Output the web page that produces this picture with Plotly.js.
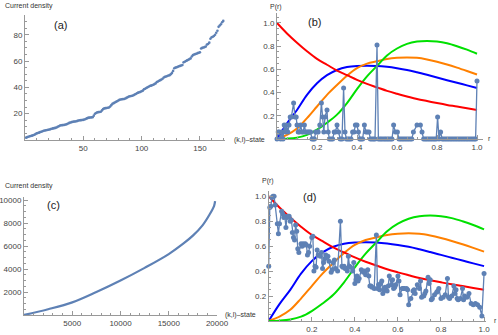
<!DOCTYPE html>
<html>
<head>
<meta charset="utf-8">
<script src="https://cdn.plot.ly/plotly-3.0.1.min.js"></script>
<style>
  html, body { margin: 0; padding: 0; background: #fff; }
  #chart { width: 498px; height: 335px; }
</style>
</head>
<body>
<div id="chart"></div>
<script>
// (a) current density of each (k,l)-state, sorted
var aDensity = [
  1.8, 2.2, 2.5, 2.8, 3.0, 3.3, 3.6, 4.0, 4.5, 5.0,
  5.3, 5.6, 6.0, 6.3, 6.7, 7.0, 7.2, 7.4, 7.6, 7.8,
  8.0, 8.3, 8.6, 8.8, 9.0, 9.2, 9.5, 10.0, 10.5, 11.0,
  11.2, 11.3, 11.4, 11.5, 11.8, 12.1, 12.5, 13.0, 13.3, 13.6,
  13.8, 14.0, 14.1, 14.2, 14.5, 14.8, 15.0, 15.1, 15.2, 15.3,
  15.6, 16.0, 16.4, 16.8, 17.0, 17.1, 17.2, 17.3, 18.5, 20.0,
  20.5, 21.0, 21.2, 21.3, 21.5, 22.5, 23.5, 24.0, 24.2, 24.3,
  24.5, 24.7, 25.5, 26.5, 27.5, 28.0, 28.5, 29.0, 29.5, 30.0,
  30.5, 30.8, 31.0, 31.1, 31.2, 31.5, 32.0, 32.5, 33.0, 33.2,
  33.4, 33.6, 34.0, 34.5, 35.0, 35.5, 36.0, 36.3, 36.6, 37.0,
  37.5, 38.5, 39.0, 39.5, 40.0, 40.5, 41.0, 41.3, 41.6, 42.0,
  42.5, 43.0, 44.0, 44.5, 45.0, 45.5, 46.0, 46.5, 47.5, 48.0,
  48.3, 48.6, 49.0, 49.3, 50.0, 51.0, 52.5, 54.5, 55.0, 55.3,
  55.6, 56.0, 56.3, 56.6, 57.0, 59.0, 59.5, 60.0, 60.5, 61.0,
  61.5, 62.0, 63.5, 64.5, 65.0, 65.3, 65.6, 66.0, 66.3, 66.6,
  69.5, 70.0, 70.3, 70.6, 71.0, 72.5, 73.0, 74.0, 77.0, 78.0,
  78.5, 79.0, 80.0, 81.5, 83.0, 86.0, 87.0, 88.0, 89.5, 90.5
];

// (b) P(r) sampled
var bR = [
  0, 0.006, 0.012, 0.018, 0.024, 0.03, 0.036, 0.042, 0.048, 0.054,
  0.06, 0.066, 0.072, 0.083, 0.09, 0.096, 0.1, 0.106, 0.112, 0.118,
  0.125, 0.131, 0.137, 0.143, 0.15, 0.156, 0.162, 0.168, 0.175, 0.181,
  0.187, 0.193, 0.2, 0.206, 0.214, 0.222, 0.228, 0.234, 0.24, 0.25,
  0.256, 0.262, 0.27, 0.278, 0.286, 0.292, 0.3, 0.308, 0.316, 0.325,
  0.333, 0.34, 0.347, 0.355, 0.362, 0.37, 0.378, 0.385, 0.392, 0.4,
  0.407, 0.414, 0.42, 0.428, 0.437, 0.445, 0.452, 0.46, 0.467, 0.475,
  0.483, 0.49, 0.5, 0.507, 0.515, 0.522, 0.53, 0.538, 0.545, 0.553,
  0.56, 0.568, 0.575, 0.583, 0.592, 0.602, 0.61, 0.618, 0.626, 0.634,
  0.642, 0.65, 0.658, 0.666, 0.674, 0.682, 0.7, 0.717, 0.725, 0.733,
  0.741, 0.749, 0.757, 0.765, 0.773, 0.781, 0.789, 0.796, 0.803, 0.81,
  0.818, 0.826, 0.834, 0.842, 0.85, 0.858, 0.866, 0.874, 0.882, 0.89,
  0.898, 0.906, 0.914, 0.922, 0.93, 0.938, 0.946, 0.954, 0.962, 0.97,
  0.978, 0.986, 0.993, 1.0
];
var bP = [
  0, 0.06, 0.06, 0, 0.06, 0, 0.12, 0.06, 0.12, 0.06,
  0.12, 0.19, 0.19, 0.31, 0.19, 0.19, 0.12, 0.06, 0.06, 0.12,
  0.06, 0.06, 0.12, 0.06, 0.06, 0.06, 0.06, 0.06, 0, 0,
  0, 0.06, 0.06, 0.06, 0.12, 0.31, 0.19, 0.06, 0.19, 0.25,
  0.06, 0, 0, 0, 0.06, 0.06, 0.12, 0.06, 0, 0,
  0.44, 0.06, 0, 0, 0, 0, 0.06, 0.06, 0.12, 0.12,
  0.06, 0, 0, 0, 0.12, 0.06, 0.06, 0.06, 0, 0,
  0, 0, 0.81, 0, 0, 0, 0, 0, 0, 0,
  0, 0, 0, 0.12, 0.06, 0.06, 0, 0, 0, 0,
  0, 0, 0, 0, 0, 0.06, 0.12, 0.12, 0.06, 0,
  0, 0, 0, 0, 0, 0, 0, 0, 0.19, 0,
  0.06, 0, 0, 0, 0, 0, 0, 0, 0, 0,
  0, 0, 0, 0, 0, 0, 0, 0, 0, 0,
  0, 0, 0, 0.5
];

// (d) P(r) sampled
var dR = [
  0, 0.005, 0.01, 0.015, 0.02, 0.025, 0.03, 0.04, 0.045, 0.05,
  0.06, 0.065, 0.07, 0.075, 0.08, 0.085, 0.09, 0.095, 0.1, 0.105,
  0.11, 0.115, 0.12, 0.125, 0.13, 0.135, 0.14, 0.15, 0.155, 0.16,
  0.165, 0.17, 0.175, 0.18, 0.185, 0.19, 0.2, 0.205, 0.21, 0.215,
  0.22, 0.225, 0.23, 0.24, 0.245, 0.25, 0.255, 0.26, 0.265, 0.27,
  0.275, 0.28, 0.29, 0.295, 0.3, 0.305, 0.31, 0.32, 0.333, 0.34,
  0.345, 0.35, 0.355, 0.36, 0.365, 0.37, 0.375, 0.38, 0.39, 0.395,
  0.4, 0.405, 0.41, 0.415, 0.42, 0.43, 0.435, 0.44, 0.445, 0.45,
  0.46, 0.465, 0.47, 0.475, 0.48, 0.49, 0.5, 0.505, 0.51, 0.515,
  0.52, 0.525, 0.53, 0.535, 0.54, 0.55, 0.555, 0.56, 0.57, 0.575,
  0.58, 0.585, 0.59, 0.6, 0.605, 0.61, 0.62, 0.625, 0.63, 0.64,
  0.645, 0.65, 0.66, 0.67, 0.675, 0.68, 0.69, 0.7, 0.705, 0.71,
  0.72, 0.725, 0.73, 0.74, 0.745, 0.75, 0.755, 0.76, 0.77, 0.78,
  0.785, 0.79, 0.8, 0.81, 0.82, 0.83, 0.835, 0.84, 0.85, 0.86,
  0.865, 0.87, 0.875, 0.88, 0.89, 0.9, 0.905, 0.91, 0.92, 0.93,
  0.94, 0.95, 0.96, 0.97, 0.98, 0.99, 1.0
];
var dP = [
  0.44, 0.91, 0.92, 0.99, 1.0, 1.0, 0.93, 0.78, 0.70, 0.78,
  0.88, 0.86, 0.83, 0.84, 0.75, 0.83, 0.84, 0.84, 0.80, 0.81,
  0.71, 0.67, 0.65, 0.77, 0.72, 0.58, 0.55, 0.62, 0.60, 0.62,
  0.61, 0.62, 0.61, 0.53, 0.55, 0.60, 0.67, 0.68, 0.40, 0.44,
  0.43, 0.57, 0.53, 0.52, 0.55, 0.42, 0.47, 0.50, 0.53, 0.51,
  0.52, 0.48, 0.39, 0.41, 0.47, 0.49, 0.42, 0.40, 0.80, 0.44,
  0.43, 0.44, 0.42, 0.42, 0.40, 0.52, 0.44, 0.43, 0.40, 0.47,
  0.30, 0.33, 0.36, 0.32, 0.34, 0.41, 0.40, 0.39, 0.40, 0.37,
  0.41, 0.36, 0.28, 0.28, 0.27, 0.26, 0.69, 0.26, 0.29, 0.25,
  0.30, 0.32, 0.22, 0.25, 0.27, 0.24, 0.28, 0.36, 0.29, 0.33,
  0.26, 0.27, 0.29, 0.36, 0.32, 0.21, 0.26, 0.26, 0.26, 0.26,
  0.25, 0.13, 0.18, 0.24, 0.25, 0.22, 0.29, 0.26, 0.32, 0.19,
  0.20, 0.22, 0.24, 0.35, 0.30, 0.33, 0.17, 0.18, 0.21, 0.23,
  0.24, 0.26, 0.18, 0.19, 0.21, 0.34, 0.19, 0.18, 0.20, 0.28,
  0.22, 0.25, 0.18, 0.17, 0.18, 0.26, 0.17, 0.20, 0.19, 0.22,
  0.14, 0.13, 0.14, 0.13, 0.11, 0.04, 0.38
];

// reference curves
var curveR = [0, 0.05, 0.1, 0.15, 0.2, 0.25, 0.3, 0.35, 0.4, 0.45, 0.5,
              0.55, 0.6, 0.65, 0.7, 0.75, 0.8, 0.85, 0.9, 0.95, 1.0];
var redCurve = [1.0, 0.91, 0.83, 0.756, 0.69, 0.64, 0.59, 0.55, 0.51, 0.475, 0.445,
                0.415, 0.39, 0.367, 0.345, 0.327, 0.31, 0.294, 0.28, 0.265, 0.25];
var blueCurve = [0, 0.135, 0.25, 0.38, 0.48, 0.55, 0.595, 0.62, 0.63, 0.632, 0.63,
                 0.622, 0.61, 0.595, 0.575, 0.553, 0.53, 0.507, 0.485, 0.462, 0.44];
var orangeCurve = [0, 0.035, 0.09, 0.18, 0.28, 0.38, 0.465, 0.545, 0.61, 0.65, 0.67,
                   0.69, 0.70, 0.703, 0.70, 0.686, 0.666, 0.642, 0.615, 0.586, 0.556];
var greenCurve = [0, 0.003, 0.012, 0.035, 0.08, 0.14, 0.21, 0.31, 0.43, 0.54, 0.63,
                  0.72, 0.78, 0.82, 0.84, 0.845, 0.84, 0.825, 0.80, 0.77, 0.735];

// (c) current density, large system
var cState = [0, 2500, 5000, 7500, 10000, 12500, 15000, 16500, 17500, 18500, 19200, 19700, 19800];
var cDensity = [0, 500, 1100, 2000, 3000, 4100, 5300, 6200, 6900, 7800, 8700, 9500, 9900];

var W = 498, H = 335;
var fx = (px) => px / W;
var fy = (py) => 1 - py / H;

var dotColor = '#5E81B5';
var axisColor = '#999';
var tickFont = {family: 'Liberation Sans, Arial, sans-serif', size: 8, color: '#444'};

function axis(domain, range, vals, labels, minor, anchor) {
    return {
        domain: domain, range: range, anchor: anchor,
        showgrid: false, zeroline: false,
        showline: true, linecolor: axisColor, linewidth: 1,
        ticks: 'inside', ticklen: 4, tickcolor: axisColor,
        tickmode: 'array', tickvals: vals, ticktext: labels,
        tickfont: tickFont,
        minor: {ticks: 'inside', ticklen: 2, tickcolor: axisColor, dtick: minor, tick0: 0, showgrid: false}
    };
}

function curves(xa, ya) {
    var cols = [['#0000FF', blueCurve], ['#FF8000', orangeCurve], ['#00E000', greenCurve], ['#FF0000', redCurve]];
    return cols.map(c => ({
        x: curveR, y: c[1], xaxis: xa, yaxis: ya,
        type: 'scatter', mode: 'lines',
        line: {color: c[0], width: 2, shape: 'spline'},
        hoverinfo: 'skip'
    }));
}

var traces = [
    {
        x: aDensity.map((_, i) => i + 1), y: aDensity,
        type: 'scatter', mode: 'markers',
        marker: {color: dotColor, size: 2.6},
        xaxis: 'x', yaxis: 'y', cliponaxis: false
    }
].concat(curves('x2', 'y2')).concat([
    {
        x: bR, y: bP, xaxis: 'x2', yaxis: 'y2',
        type: 'scatter', mode: 'lines+markers',
        line: {color: dotColor, width: 1.3},
        marker: {color: dotColor, size: 5},
        cliponaxis: false
    },
    {
        x: cState, y: cDensity, xaxis: 'x3', yaxis: 'y3',
        type: 'scatter', mode: 'lines',
        line: {color: dotColor, width: 2.2, shape: 'spline'}
    }
]).concat(curves('x4', 'y4')).concat([
    {
        x: dR, y: dP, xaxis: 'x4', yaxis: 'y4',
        type: 'scatter', mode: 'lines+markers',
        line: {color: dotColor, width: 1.3},
        marker: {color: dotColor, size: 5},
        cliponaxis: false
    }
]);

var rVals = [0.2, 0.4, 0.6, 0.8, 1.0];
var rText = ['0.2', '0.4', '0.6', '0.8', '1.0'];

var labelFont = {family: 'Liberation Sans, Arial, sans-serif', size: 7, color: '#333'};
var tagFont = {family: 'Liberation Sans, Arial, sans-serif', size: 11, color: '#222'};

function note(text, px, py, font, xanchor) {
    return {text: text, xref: 'paper', yref: 'paper', x: fx(px), y: fy(py),
            xanchor: xanchor || 'left', yanchor: 'middle', showarrow: false, font: font};
}

var layout = {
    width: W, height: H,
    margin: {l: 0, r: 0, t: 0, b: 0},
    paper_bgcolor: '#fff', plot_bgcolor: 'rgba(0,0,0,0)',
    showlegend: false,
    xaxis: axis([fx(25), fx(225)], [0, 171.5], [50, 100, 150], ['50', '100', '150'], 10, 'y'),
    yaxis: axis([fy(140), fy(15)], [0, 95], [20, 40, 60, 80], ['20', '40', '60', '80'], 5, 'x'),
    xaxis2: axis([fx(277), fx(483)], [0, 1.03], rVals, rText, 0.05, 'y2'),
    yaxis2: axis([fy(139), fy(13)], [0, 1.086], rVals, rText, 0.05, 'x2'),
    xaxis3: axis([fx(24), fx(217)], [0, 20000], [5000, 10000, 15000, 20000], ['5000', '10000', '15000', '20000'], 1000, 'y3'),
    yaxis3: axis([fy(315), fy(196.7)], [0, 10290], [2000, 4000, 6000, 8000, 10000], ['2000', '4000', '6000', '8000', '10000'], 500, 'x3'),
    xaxis4: axis([fx(268.7), fx(486.2)], [0, 1.01], rVals, rText, 0.05, 'y4'),
    yaxis4: axis([fy(321), fy(191.3)], [0, 1.04], rVals, rText, 0.05, 'x4'),
    annotations: [
        note('Current density', 3, 6, labelFont),
        note('(k,l)\u2013state', 232, 140, labelFont),
        note('(a)', 52, 25, tagFont),
        note('P(r)', 268, 7, labelFont),
        note('r', 486, 138, labelFont),
        note('(b)', 306, 22, tagFont),
        note('Current density', 3, 186, labelFont),
        note('(k,l)\u2013state', 223, 315, labelFont),
        note('(c)', 45, 205, tagFont),
        note('P(r)', 260, 181, labelFont),
        note('r', 492, 320, labelFont),
        note('(d)', 301, 197, tagFont)
    ]
};

Plotly.newPlot('chart', traces, layout, {staticPlot: true, displayModeBar: false});
</script>
</body>
</html>
